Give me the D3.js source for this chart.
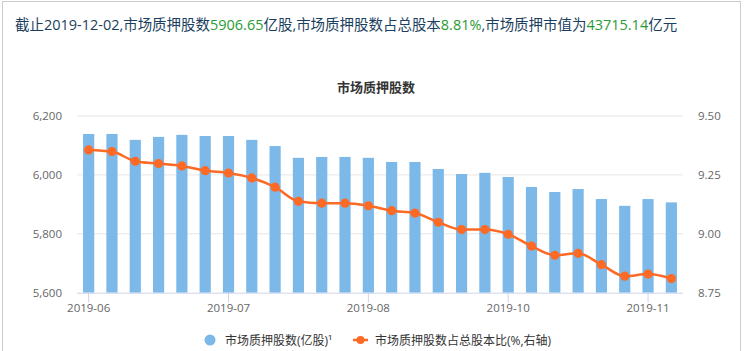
<!DOCTYPE html>
<html><head><meta charset="utf-8">
<script src="https://cdn.jsdelivr.net/npm/d3@7/dist/d3.min.js"></script>
<style>
html,body{margin:0;padding:0;background:#fff;}
svg{display:block;font-family:"Open Sans","Noto Sans CJK SC",sans-serif;}
</style></head>
<body><svg id="c" width="745" height="351"></svg>
<script>
const dates = ["2019-06-07","2019-06-14","2019-06-21","2019-06-28","2019-07-05","2019-07-12","2019-07-19","2019-07-26","2019-08-02","2019-08-09","2019-08-16","2019-08-23","2019-08-30","2019-09-06","2019-09-13","2019-09-20","2019-09-27","2019-10-04","2019-10-11","2019-10-18","2019-10-25","2019-11-01","2019-11-08","2019-11-15","2019-11-22","2019-11-29"];
const pledgedShares = [6139,6139,6119,6129,6136,6132,6132,6119,6098,6058,6061,6061,6058,6044,6044,6020,6003,6007,5993,5959,5942,5952,5918,5895,5918,5906.65];
const pledgedRatio = [9.356,9.349,9.308,9.298,9.288,9.268,9.258,9.237,9.198,9.138,9.130,9.130,9.119,9.098,9.088,9.049,9.018,9.018,8.998,8.948,8.909,8.917,8.869,8.820,8.829,8.81];
const leftTicks = [5600,5800,6000,6200];
const rightTicks = [8.75,9.00,9.25,9.50];
const xLabelIdx = [0,6,12,18,24];
const headerParts = [["截止2019-12-02,市场质押股数",0],["5906.65",1],["亿股,市场质押股数占总股本",0],["8.81%",1],[",市场质押市值为",0],["43715.14",1],["亿元",0]];
const chartTitle = "市场质押股数";
const seriesNames = ["市场质押股数(亿股)¹","市场质押股数占总股本比(%,右轴)"];

const svg = d3.select("#c");
const L=77,R=683,T=116,B=292.7;
const barColor="#7cb9e9", lineColor="#fd6a25";

// frame
svg.append("rect").attr("x",2.5).attr("y",1.5).attr("width",738).attr("height",360)
  .attr("fill","none").attr("stroke","#cccccc").attr("stroke-width",1);

// header (fit to reference width)
const ht = svg.append("text").attr("x",15).attr("y",30).attr("font-size",13.5);
headerParts.forEach(p=>ht.append("tspan").text(p[0]).attr("fill",p[1]?"#2a9a35":"#1c3f60"));
const w0 = ht.node().getComputedTextLength();
if (w0 > 0) ht.attr("font-size", Math.min(15, 13.5 * 663 / w0));

svg.append("text").attr("x",376).attr("y",92).attr("text-anchor","middle")
  .attr("font-family","Noto Sans CJK SC")
  .attr("font-size",13).attr("font-weight","bold").attr("fill","#333").text(chartTitle);

const x = d3.scaleBand().domain(dates).range([L,R]).paddingInner(0.52).paddingOuter(0.26);
const yL = d3.scaleLinear().domain([5600,6200]).range([B,T]);
const yR = d3.scaleLinear().domain([8.75,9.5]).range([B,T]);

// grid
svg.append("g").selectAll("line").data(leftTicks.slice(1)).join("line")
  .attr("x1",L).attr("x2",R).attr("y1",d=>yL(d)).attr("y2",d=>yL(d))
  .attr("stroke","#e6e6e6").attr("stroke-width",1);

// bars
svg.append("g").selectAll("rect").data(pledgedShares).join("rect")
  .attr("x",(d,i)=>x(dates[i])).attr("width",x.bandwidth())
  .attr("y",d=>yL(d)).attr("height",d=>B-yL(d)).attr("fill",barColor);

// x axis
svg.append("line").attr("x1",L).attr("x2",R).attr("y1",B+0.5).attr("y2",B+0.5).attr("stroke","#ccd6eb");
const xc = i=>x(dates[i])+x.bandwidth()/2;
svg.append("g").selectAll("line").data(xLabelIdx).join("line")
  .attr("x1",i=>xc(i)).attr("x2",i=>xc(i)).attr("y1",B).attr("y2",B+10).attr("stroke","#ccd6eb");
svg.append("g").selectAll("text").data(xLabelIdx).join("text")
  .attr("x",i=>xc(i)).attr("y",B+19).attr("text-anchor","middle").attr("font-size",11.5)
  .attr("fill","#666").text(i=>dates[i].slice(0,7));

// y axes labels
const fmt = d3.format(",");
svg.append("g").selectAll("text").data(leftTicks).join("text")
  .attr("x",62).attr("y",d=>yL(d)+4).attr("text-anchor","end").attr("font-size",11.5)
  .attr("fill","#666").text(d=>fmt(d));
svg.append("g").selectAll("text").data(rightTicks).join("text")
  .attr("x",698).attr("y",d=>yR(d)+4).attr("text-anchor","start").attr("font-size",11.5)
  .attr("fill","#666").text(d=>d.toFixed(2));

// line
const line = d3.line().x((d,i)=>xc(i)).y(d=>yR(d)).curve(d3.curveMonotoneX);
svg.append("path").datum(pledgedRatio).attr("d",line).attr("fill","none")
  .attr("stroke",lineColor).attr("stroke-width",2.5);
svg.append("g").selectAll("circle").data(pledgedRatio).join("circle")
  .attr("cx",(d,i)=>xc(i)).attr("cy",d=>yR(d)).attr("r",4.6).attr("fill",lineColor);

// legend
const lg = svg.append("g");
lg.append("circle").attr("cx",210).attr("cy",340).attr("r",5.5).attr("fill",barColor);
lg.append("text").attr("x",225).attr("y",344.5).attr("font-size",12).attr("fill","#333").text(seriesNames[0]);
lg.append("line").attr("x1",353).attr("x2",368).attr("y1",340).attr("y2",340).attr("stroke",lineColor).attr("stroke-width",2.5);
lg.append("circle").attr("cx",360.5).attr("cy",340).attr("r",4).attr("fill",lineColor);
lg.append("text").attr("x",375).attr("y",344.5).attr("font-size",12).attr("fill","#333").text(seriesNames[1]);
</script></body></html>
